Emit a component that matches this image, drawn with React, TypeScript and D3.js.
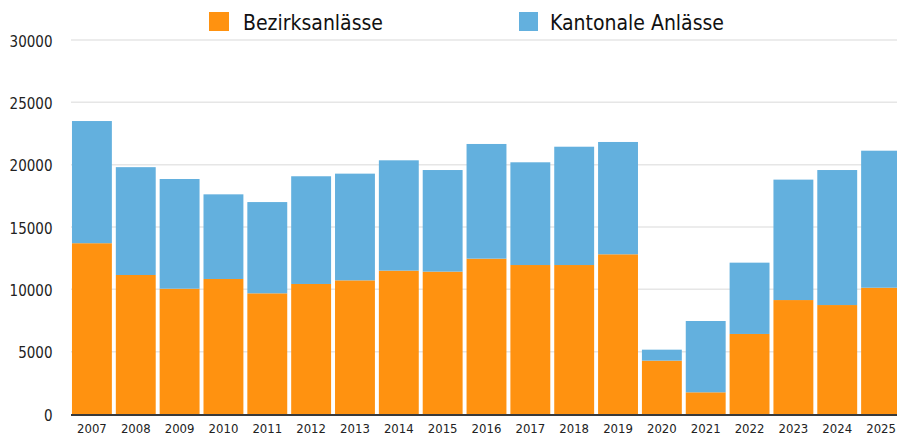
import React from "react";
import * as d3 from "d3";

const years = ["2007","2008","2009","2010","2011","2012","2013","2014","2015","2016","2017","2018","2019","2020","2021","2022","2023","2024","2025"];
const bezirk = [13700,11150,10050,10830,9680,10430,10720,11500,11420,12460,11950,11950,12810,4280,1740,6420,9140,8740,10130];
const kantonal = [9800,8650,8800,6790,7320,8640,8560,8850,8150,9200,8240,9490,9010,880,5720,5720,9660,10830,10990];
const yTicks = [0,5000,10000,15000,20000,25000,30000];
const seriesNames = ["Bezirksanlässe","Kantonale Anlässe"];
const colors = ["#ff9210","#63b0de"];

export default function App() {
  const W = 897, H = 434;
  const x = d3.scaleBand<string>().domain(years).range([70, 903]).paddingInner(0.09).paddingOuter(0.045);
  const y = d3.scaleLinear().domain([0, 30000]).range([414, 40]);
  const rows = years.map((yr, i) => ({ yr, a: bezirk[i], b: kantonal[i] }));
  const stack = d3.stack<any>().keys(["a","b"])(rows);
  const font = "'DejaVu Sans Condensed', 'DejaVu Sans', sans-serif";
  return (
    <svg width={W} height={H} style={{ position: "absolute", left: 0, top: 0, background: "#fff" }} fontFamily={font} fontStretch="condensed">
      {yTicks.map(t => (
        <g key={t}>
          {t > 0 && <line x1={71} x2={W} y1={y(t)} y2={y(t)} stroke="#e6e6e6" strokeWidth={1.5} />}
          <text x={52.5} y={y(t) + 1.5} textAnchor="end" dominantBaseline="central" fontSize={15} fill="#222">{t}</text>
        </g>
      ))}
      {stack.map((s, si) => (
        <g key={si} fill={colors[si]}>
          {s.map((d, i) => (
            <rect key={i} x={x(years[i])} width={x.bandwidth()} y={y(d[1])} height={y(d[0]) - y(d[1])} />
          ))}
        </g>
      ))}
      <line x1={71} x2={W} y1={415} y2={415} stroke="#3a3a3a" strokeWidth={2} />
      {years.map(yr => (
        <text key={yr} x={(x(yr) as number) + x.bandwidth() / 2} y={433} textAnchor="middle" fontSize={13} fill="#222">{yr}</text>
      ))}
      <rect x={209} y={12} width={20} height={19} fill={colors[0]} />
      <text x={243} y={30} fontSize={21} fill="#111">{seriesNames[0]}</text>
      <rect x={519} y={12} width={19} height={19} fill={colors[1]} />
      <text x={550} y={30} fontSize={21} fill="#111">{seriesNames[1]}</text>
    </svg>
  );
}
